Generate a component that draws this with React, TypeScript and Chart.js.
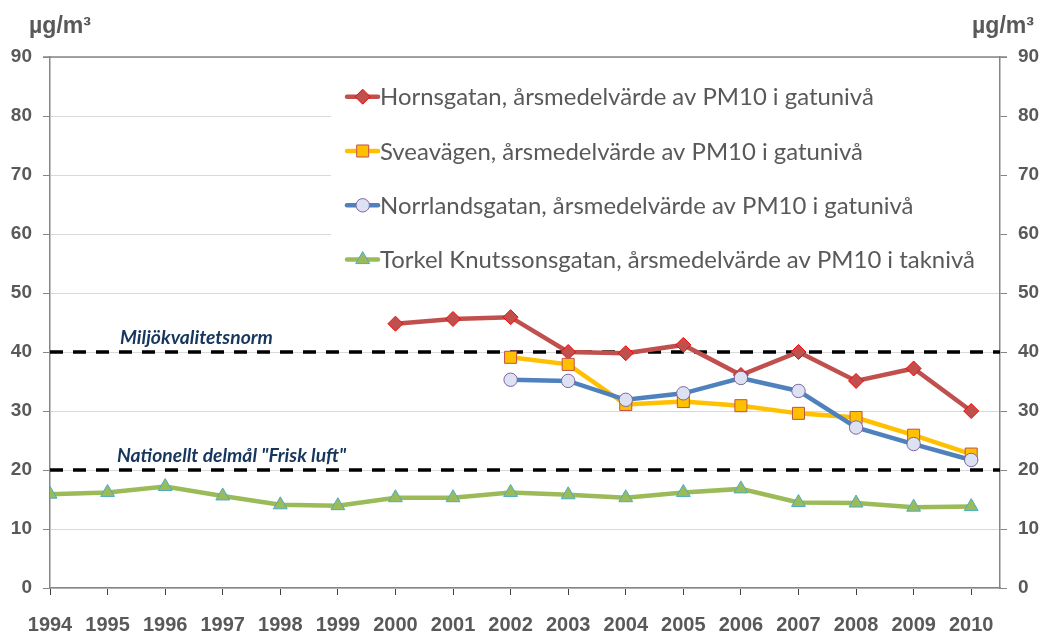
import React, { useEffect, useRef } from 'react';
import { Chart, registerables } from 'chart.js';
import { drawPoint } from 'chart.js/helpers';

Chart.register(...registerables);

// ---------- data ----------
const years = [1994, 1995, 1996, 1997, 1998, 1999, 2000, 2001, 2002, 2003, 2004, 2005, 2006, 2007, 2008, 2009, 2010];
const hornsgatan = [null, null, null, null, null, null, 44.8, 45.6, 45.9, 40.0, 39.8, 41.2, 36.1, 40.0, 35.1, 37.2, 30.0];
const sveavagen = [null, null, null, null, null, null, null, null, 39.1, 37.9, 31.1, 31.6, 30.9, 29.6, 28.9, 25.9, 22.7];
const norrlandsgatan = [null, null, null, null, null, null, null, null, 35.3, 35.1, 31.9, 33.0, 35.6, 33.4, 27.2, 24.4, 21.7];
const torkel = [15.9, 16.2, 17.2, 15.6, 14.1, 13.95, 15.3, 15.3, 16.2, 15.8, 15.3, 16.2, 16.8, 14.5, 14.4, 13.7, 13.8];
const seriesNames = [
  'Hornsgatan, årsmedelvärde av PM10 i gatunivå',
  'Sveavägen, årsmedelvärde av PM10 i gatunivå',
  'Norrlandsgatan, årsmedelvärde av PM10 i gatunivå',
  'Torkel Knutssonsgatan, årsmedelvärde av PM10 i taknivå',
];
const limitValues = [40, 20];
const limitLabels = ['Miljökvalitetsnorm', 'Nationellt delmål "Frisk luft"'];
const unitLabel = 'µg/m³';
const yMin = 0;
const yMax = 90;
const yStep = 10;
const xMin = 1994;
const xMax = 2010.5;

// ---------- styles ----------
const FONT = 'Lato';
const TICK_FONT = '"Liberation Sans", Arial, sans-serif';
const TICK_COLOR = '#595959';
const AXIS_COLOR = '#868686';
const GRID_COLOR = '#D9D9D9';
const NAVY = '#17365D';

const seriesStyles = [
  { line: '#C0504D', fill: '#C0504D', border: '#FF0000', style: 'rectRot', radius: 7.5 },
  { line: '#FFC000', fill: '#FFC000', border: '#C0504D', style: 'rect', radius: 8.5 },
  { line: '#4F81BD', fill: '#DDE2F2', border: '#7F64A2', style: 'circle', radius: 6.7 },
  { line: '#9BBB59', fill: '#9BBB59', border: '#4BACC6', style: 'triangle', radius: 8 },
];
const seriesValues = [hornsgatan, sveavagen, norrlandsgatan, torkel];

const toPoints = (arr: (number | null)[]) =>
  years.map((x, i) => ({ x, y: arr[i] })).filter((p) => p.y !== null);

function fitFont(ctx: CanvasRenderingContext2D, text: string, style: string, family: string, target: number) {
  ctx.font = `${style} 20px ${family}`;
  const w = ctx.measureText(text).width;
  return (20 * target) / w;
}

const decorPlugin = {
  id: 'decor',
  beforeDatasetsDraw(chart: any) {
    const { ctx, chartArea, scales } = chart;
    const ys = scales.y;
    ctx.save();
    // legend box (white, hides gridlines)
    ctx.fillStyle = '#FFFFFF';
    ctx.fillRect(331, chartArea.top + 6, chartArea.right - 331 - 1, 224);

    // legend items
    const size = fitFont(ctx, seriesNames[3], '', FONT, 595);
    ctx.font = `${size}px ${FONT}`;
    ctx.textBaseline = 'middle';
    ctx.textAlign = 'left';
    seriesNames.forEach((name, i) => {
      const st = seriesStyles[i];
      const cy = 96.7 + i * 54.3;
      ctx.strokeStyle = st.line;
      ctx.lineWidth = 4.5;
      ctx.lineCap = 'round';
      ctx.beginPath();
      ctx.moveTo(347, cy);
      ctx.lineTo(378, cy);
      ctx.stroke();
      ctx.lineCap = 'butt';
      ctx.fillStyle = st.fill;
      ctx.strokeStyle = st.border;
      ctx.lineWidth = 1;
      drawPoint(ctx, { pointStyle: st.style as any, rotation: 0, radius: st.radius, borderWidth: 1 }, 362.7, cy);
      ctx.fillStyle = TICK_COLOR;
      ctx.fillText(name, 380, cy + 1);
    });

    // limit labels
    const lsize = fitFont(ctx, limitLabels[0], 'italic bold', FONT, 153);
    ctx.font = `italic bold ${lsize}px ${FONT}`;
    ctx.fillStyle = NAVY;
    ctx.textAlign = 'left';
    ctx.textBaseline = 'middle';
    const offsets = [70, 67];
    limitLabels.forEach((t, i) => {
      ctx.fillText(t, chartArea.left + offsets[i], ys.getPixelForValue(limitValues[i]) - 14);
    });
    ctx.restore();
  },
  afterDraw(chart: any) {
    const { ctx, chartArea } = chart;
    ctx.save();
    // top border
    ctx.strokeStyle = AXIS_COLOR;
    ctx.lineWidth = 1.5;
    ctx.beginPath();
    ctx.moveTo(chartArea.left - 7, chartArea.top);
    ctx.lineTo(chartArea.right + 7, chartArea.top);
    ctx.stroke();
    // unit labels
    const usize = fitFont(ctx, unitLabel, 'bold', TICK_FONT, 62);
    ctx.font = `bold ${usize}px ${TICK_FONT}`;
    ctx.fillStyle = TICK_COLOR;
    ctx.textBaseline = 'middle';
    ctx.textAlign = 'left';
    ctx.fillText(unitLabel, 29, 27);
    ctx.fillText(unitLabel, 972, 27);
    ctx.restore();
  },
};

export default function App() {
  const ref = useRef<HTMLCanvasElement | null>(null);
  useEffect(() => {
    if (!ref.current) return;
    Chart.defaults.font.family = FONT;
    const datasets: any[] = seriesValues.map((vals, i) => {
      const st = seriesStyles[i];
      return {
        label: seriesNames[i],
        data: toPoints(vals),
        borderColor: st.line,
        borderWidth: 4.5,
        pointStyle: st.style,
        pointRadius: st.radius,
        pointHoverRadius: st.radius,
        pointBackgroundColor: st.fill,
        pointBorderColor: st.border,
        pointBorderWidth: 1,
        tension: 0,
        fill: false,
        yAxisID: 'y',
        order: 4 - i,
      };
    });
    limitValues.forEach((v, i) => {
      datasets.push({
        label: limitLabels[i],
        data: [
          { x: xMin, y: v },
          { x: xMax, y: v },
        ],
        borderColor: '#000000',
        borderWidth: 3.5,
        borderDash: [13, 10],
        pointRadius: 0,
        fill: false,
        yAxisID: 'y',
        order: 10,
      });
    });

    const tickFont = (size: number) => ({ family: TICK_FONT, size, weight: 'bold' as const });

    const chart = new Chart(ref.current, {
      type: 'line',
      data: { datasets },
      options: {
        animation: false,
        responsive: false,
        maintainAspectRatio: false,
        layout: { padding: { top: 57, left: 0, right: 0, bottom: 0 } },
        plugins: { legend: { display: false }, tooltip: { enabled: false } },
        scales: {
          x: {
            type: 'linear',
            position: 'bottom',
            min: xMin,
            max: xMax,
            ticks: {
              stepSize: 1,
              includeBounds: false,
              autoSkip: false,
              maxRotation: 0,
              callback: (v: any) => (Number.isInteger(v) ? String(v) : ''),
              font: tickFont(20),
              color: TICK_COLOR,
              padding: 18,
            },
            grid: { drawOnChartArea: false, drawTicks: true, tickLength: 7, tickColor: '#404040', lineWidth: 1 },
            border: { color: AXIS_COLOR, width: 1.5 },
            afterFit: (s: any) => {
              s.height = 44;
            },
          },
          y: {
            position: 'left',
            min: yMin,
            max: yMax,
            ticks: {
              stepSize: yStep,
              font: tickFont(19),
              color: TICK_COLOR,
              padding: 11,
            },
            grid: { color: GRID_COLOR, lineWidth: 1, tickLength: 7, tickColor: AXIS_COLOR },
            border: { color: AXIS_COLOR, width: 1.5 },
            afterFit: (s: any) => {
              s.width = 50;
            },
          },
          y2: {
            position: 'right',
            min: yMin,
            max: yMax,
            ticks: {
              stepSize: yStep,
              font: tickFont(19),
              color: TICK_COLOR,
              padding: 11,
            },
            grid: { drawOnChartArea: false, tickLength: 7, tickColor: AXIS_COLOR },
            border: { color: AXIS_COLOR, width: 1.5 },
            afterFit: (s: any) => {
              s.width = 40;
            },
          },
        },
      },
      plugins: [decorPlugin],
    });
    return () => chart.destroy();
  }, []);

  return (
    <div style={{ position: 'absolute', left: 0, top: 0, width: 1040, height: 632, background: '#fff' }}>
      <canvas ref={ref} width={1040} height={632} style={{ width: 1040, height: 632, display: 'block' }} />
    </div>
  );
}
